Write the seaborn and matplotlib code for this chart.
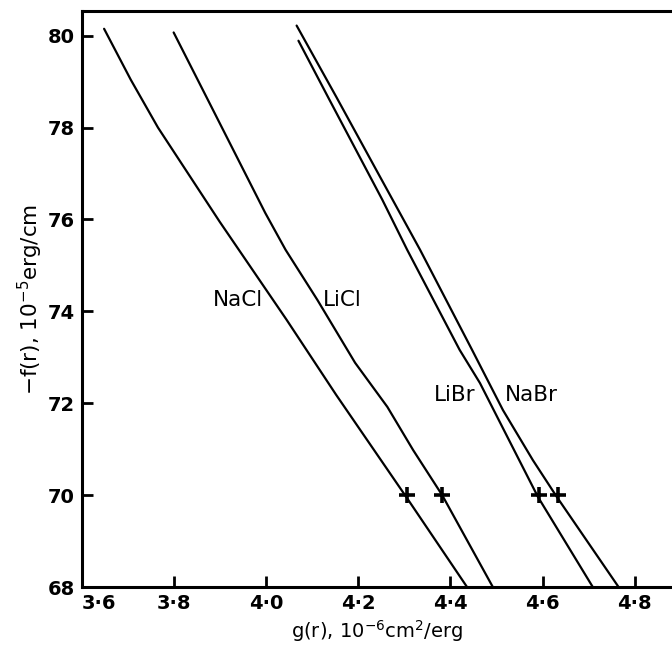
import matplotlib
matplotlib.use("Agg")
import matplotlib.pyplot as plt
import seaborn as sns
import pandas as pd

# values
nacl_g = [3.648, 3.706, 3.765, 3.899, 4.044, 4.152, 4.304, 4.436]
nacl_f = [80.15, 79.04, 78.00, 75.95, 73.82, 72.18, 69.96, 68.0]

licl_g = [3.799, 3.873, 3.998, 4.042, 4.111, 4.193, 4.263, 4.319, 4.382, 4.492]
licl_f = [80.07, 78.61, 76.14, 75.34, 74.25, 72.88, 71.92, 70.98, 70.0, 68.0]

libr_g = [4.070, 4.137, 4.252, 4.306, 4.420, 4.464, 4.590, 4.709]
libr_f = [79.89, 78.61, 76.43, 75.34, 73.16, 72.44, 69.96, 68.0]

nabr_g = [4.066, 4.152, 4.247, 4.334, 4.447, 4.514, 4.579, 4.631, 4.765]
nabr_f = [80.22, 78.67, 76.93, 75.34, 73.16, 71.85, 70.76, 69.96, 68.0]

salts = ["NaCl", "LiCl", "LiBr", "NaBr"]
label_g = [3.938, 4.165, 4.410, 4.575]
label_f = [74.25, 74.25, 72.18, 72.18]

star_g = [4.305, 4.382, 4.592, 4.633]
star_f = [70.0, 70.0, 70.0, 70.0]

xticks = [3.6, 3.8, 4.0, 4.2, 4.4, 4.6, 4.8]
xticklabels = ["3·6", "3·8", "4·0", "4·2", "4·4", "4·6", "4·8"]
yticks = [68, 70, 72, 74, 76, 78, 80]

sns.set_style("ticks", {"axes.edgecolor": "black", "text.color": "black",
                        "xtick.color": "black", "ytick.color": "black",
                        "axes.labelcolor": "black"})
plt.rcParams["font.family"] = ["DejaVu Sans"]

fig = plt.figure(figsize=(6.72, 6.51), dpi=100)
ax = fig.add_axes([0.122, 0.0983, 0.878, 0.885])

curves = [(nacl_g, nacl_f), (licl_g, licl_f), (libr_g, libr_f), (nabr_g, nabr_f)]
for name, (g, f) in zip(salts, curves):
    df = pd.DataFrame({"g": g, "f": f})
    sns.lineplot(data=df, x="g", y="f", color="black", linewidth=1.6, sort=False, ax=ax)

sns.scatterplot(x=star_g, y=star_f, marker="+", s=130, color="black", linewidth=2.6, ax=ax, zorder=5)

for name, gx, fy in zip(salts, label_g, label_f):
    ax.text(gx, fy, name, ha="center", va="center", fontsize=15.5)

ax.set_xlim(3.6, 4.881)
ax.set_ylim(68, 80.54)
ax.set_xticks(xticks)
ax.set_xticklabels(xticklabels)
ax.set_yticks(yticks)
ax.tick_params(direction="in", length=8, width=2, labelsize=14, pad=5)
for lab in ax.get_xticklabels() + ax.get_yticklabels():
    lab.set_fontweight("bold")
ax.get_xticklabels()[0].set_horizontalalignment("left")

ax.spines["right"].set_visible(False)
for side in ["left", "top", "bottom"]:
    ax.spines[side].set_linewidth(2.2)

ax.set_xlabel("g(r), 10$^{-6}$cm$^{2}$/erg", fontsize=14, labelpad=4)
ax.set_ylabel("$-$f(r), 10$^{-5}$erg/cm", fontsize=15.5, labelpad=2)

fig.savefig("out.png", dpi=100)
